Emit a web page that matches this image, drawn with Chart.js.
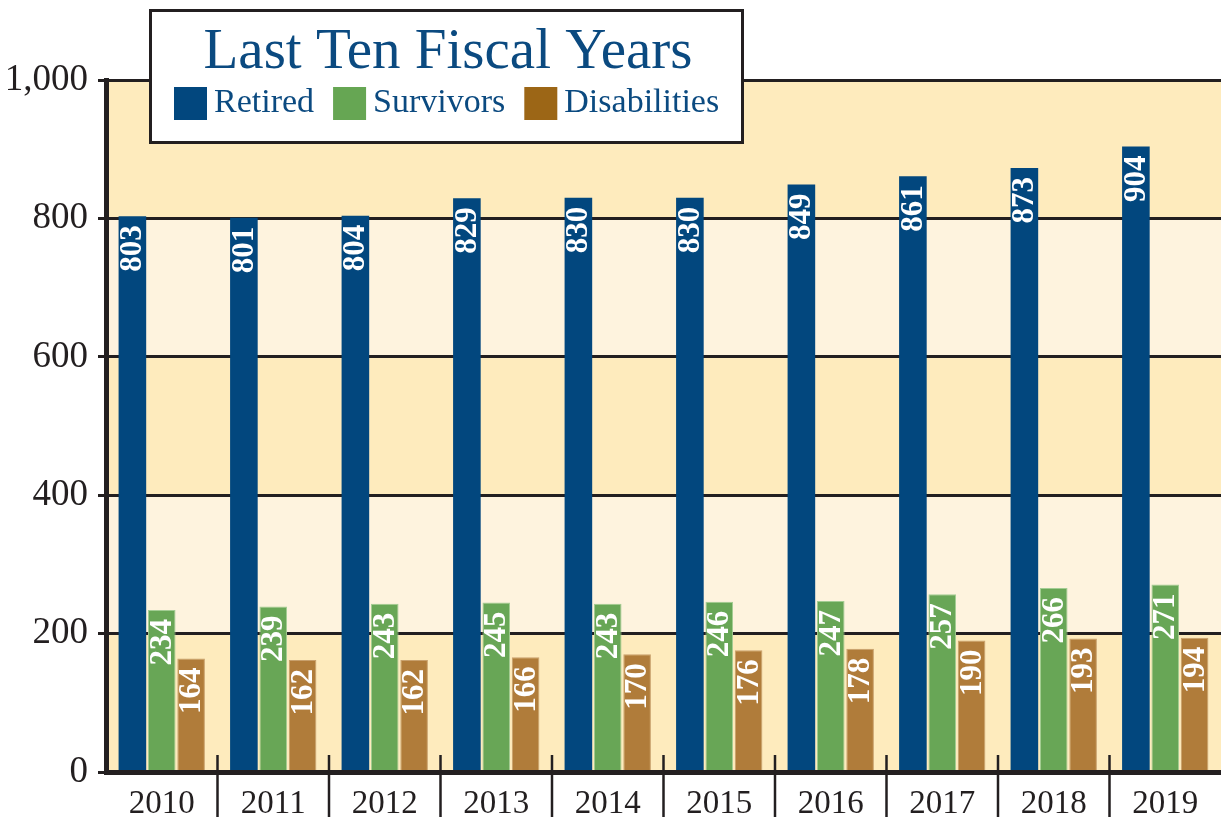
<!DOCTYPE html>
<html>
<head>
<meta charset="utf-8">
<script src="https://cdn.jsdelivr.net/npm/chart.js@4.4.1/dist/chart.umd.min.js"></script>
<style>
  html, body { margin: 0; padding: 0; background: #fff; }
  #wrap { width: 1221px; height: 821px; }
</style>
</head>
<body>
<div id="wrap"><canvas id="chart" width="1221" height="821"></canvas></div>
<script>
const years = ["2010", "2011", "2012", "2013", "2014", "2015", "2016", "2017", "2018", "2019"];
const retired = [803, 801, 804, 829, 830, 830, 849, 861, 873, 904];
const survivors = [234, 239, 243, 245, 243, 246, 247, 257, 266, 271];
const disabilities = [164, 162, 162, 166, 170, 176, 178, 190, 193, 194];
const seriesNames = ["Retired", "Survivors", "Disabilities"];
const yTicks = [0, 200, 400, 600, 800, 1000];
const chartTitle = "Last Ten Fiscal Years";

const ink = "#231f20";
const blueText = "#0b4a80";
const barColors = ["#02477e", "#68a656", "#b07c3a"];
const legendColors = ["#02477e", "#66a653", "#9c6616"];
const serif = '"Liberation Serif", "Times New Roman", serif';

// alternating bands between gridlines
const bandPlugin = {
  id: "bands",
  beforeDraw(chart) {
    const { ctx, chartArea: a, scales: { y } } = chart;
    ctx.save();
    for (let i = 0; i < yTicks.length - 1; i++) {
      const top = y.getPixelForValue(yTicks[i + 1]);
      const bot = y.getPixelForValue(yTicks[i]);
      ctx.fillStyle = i % 2 === 0 ? "#feebbd" : "#fef3de";
      ctx.fillRect(a.left, top, a.right - a.left, bot - top);
    }
    ctx.restore();
  },
};

// rotated value labels + year separators
const labelPlugin = {
  id: "valueLabels",
  afterDatasetsDraw(chart) {
    const { ctx, chartArea: a, scales: { x } } = chart;
    ctx.save();
    ctx.fillStyle = "#fff";
    ctx.font = "bold 31px " + serif;
    ctx.textAlign = "right";
    ctx.textBaseline = "middle";
    chart.data.datasets.forEach((ds, di) => {
      chart.getDatasetMeta(di).data.forEach((bar, i) => {
        ctx.save();
        ctx.translate(bar.x, bar.y + 9);
        ctx.rotate(-Math.PI / 2);
        ctx.fillText(String(ds.data[i]), 0, 1);
        ctx.restore();
      });
    });

    ctx.strokeStyle = ink;
    ctx.lineWidth = 2.5;
    for (let i = 1; i < years.length; i++) {
      const px = (x.getPixelForValue(i - 1) + x.getPixelForValue(i)) / 2;
      ctx.beginPath();
      ctx.moveTo(px, a.bottom - 17);
      ctx.lineTo(px, a.bottom + 45);
      ctx.stroke();
    }
    ctx.restore();
  },
};

// boxed title with legend
const titleBoxPlugin = {
  id: "titleBox",
  afterDraw(chart) {
    const ctx = chart.ctx;
    ctx.save();
    ctx.fillStyle = "#fff";
    ctx.fillRect(150.5, 10.5, 592, 132);
    ctx.strokeStyle = ink;
    ctx.lineWidth = 3;
    ctx.strokeRect(150.5, 10.5, 592, 132);

    ctx.fillStyle = blueText;
    ctx.font = "57px " + serif;
    ctx.textAlign = "center";
    ctx.textBaseline = "alphabetic";
    ctx.fillText(chartTitle, 448, 68);

    ctx.font = "34px " + serif;
    ctx.textAlign = "left";
    let lx = 174;
    seriesNames.forEach((name, i) => {
      ctx.fillStyle = legendColors[i];
      ctx.fillRect(lx, 87, 33, 33);
      ctx.fillStyle = blueText;
      ctx.fillText(name, lx + 40, 112);
      lx += 40 + ctx.measureText(name).width + 19;
    });
    ctx.restore();
  },
};

new Chart(document.getElementById("chart").getContext("2d"), {
  type: "bar",
  data: {
    labels: years,
    datasets: [
      { label: seriesNames[0], data: retired, backgroundColor: barColors[0] },
      { label: seriesNames[1], data: survivors, backgroundColor: barColors[1], borderColor: "#a3cd93", borderWidth: { top: 1, left: 1, right: 1, bottom: 0 } },
      { label: seriesNames[2], data: disabilities, backgroundColor: barColors[2], borderColor: "#c8a06c", borderWidth: { top: 1, left: 1, right: 1, bottom: 0 } },
    ],
  },
  options: {
    responsive: false,
    animation: false,
    devicePixelRatio: 1,
    layout: { padding: { top: 80, left: 0, right: 0, bottom: 0 } },
    datasets: { bar: { categoryPercentage: 0.79, barPercentage: 0.94 } },
    plugins: {
      legend: { display: false },
      title: { display: false },
      tooltip: { enabled: false },
    },
    scales: {
      x: {
        grid: { display: true, drawOnChartArea: false, drawTicks: false },
        border: { color: ink, width: 5, z: 1 },
        ticks: { font: { family: serif, size: 33 }, color: ink, padding: 13 },
        afterFit(scale) { scale.height = 49; },
      },
      y: {
        min: 0,
        max: 1000,
        ticks: { stepSize: 200, font: { family: serif, size: 37 }, color: ink, padding: 10 },
        grid: { color: ink, lineWidth: 3, tickLength: 8 },
        border: { color: ink, width: 5, z: 1 },
        afterFit(scale) { scale.width = 106; },
      },
    },
  },
  plugins: [bandPlugin, labelPlugin, titleBoxPlugin],
});
</script>
</body>
</html>
